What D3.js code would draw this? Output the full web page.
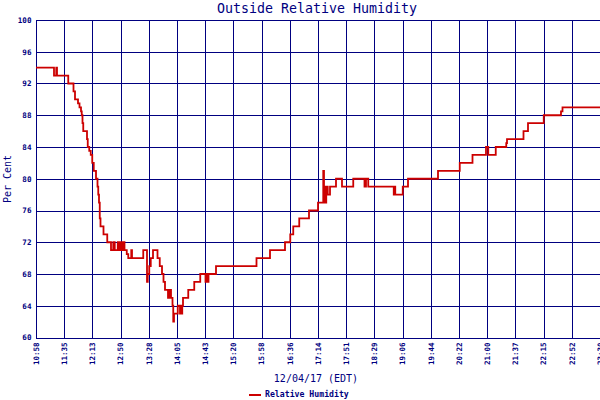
<!DOCTYPE html>
<html><head><meta charset="utf-8">
<script src="https://cdn.jsdelivr.net/npm/d3@7"></script>
<style>body{margin:0;background:#fff}svg{display:block}</style>
</head><body>
<svg id="c" width="600" height="400"></svg>
<script>
const yTicks = [60,64,68,72,76,80,84,88,92,96,100];
const xTickLabels = ["10:58","11:35","12:13","12:50","13:28","14:05","14:43","15:20","15:58","16:36","17:14","17:51","18:29","19:06","19:44","20:22","21:00","21:37","22:15","22:52","23:30"];
const times = ["10:58","11:22","11:25","11:26","11:41","11:48","11:50","11:54","11:56","11:58","11:59","12:00","12:01","12:06","12:07","12:09","12:11","12:13","12:15","12:18","12:20","12:21","12:22","12:23","12:24","12:28","12:33","12:38","12:41","12:43","12:47","12:49","12:51","12:53","12:54","12:56","12:59","13:01","13:05","13:06","13:21","13:26","13:27","13:29","13:31","13:34","13:40","13:43","13:46","13:48","13:50","13:54","13:55","13:56","13:57","13:58","14:00","14:01","14:02","14:07","14:10","14:11","14:12","14:13","14:14","14:21","14:29","14:37","14:44","14:46","14:47","14:48","14:58","15:52","16:10","16:30","16:37","16:41","16:49","17:02","17:14","17:21","17:22","17:23","17:24","17:25","17:26","17:27","17:30","17:38","17:46","18:01","18:16","18:18","18:21","18:55","18:56","18:57","19:07","19:14","19:54","20:23","20:40","20:58","21:01","21:11","21:25","21:26","21:48","21:54","22:15","22:38","22:40","23:30"];
const humidity = [94,93,94,93,92,91,90,89.5,89,88.5,88,87,86,85,84,83.5,83,82,81,80,79,78,77,75,74,73,72,71,72,71,72,71,72,71,72,71,70.5,70,71,70,71,67,68,69,70,71,70,69,68,67,66,65,66,65,66,65,64,62,63,64,63,64,63,64,65,66,67,68,67,68,67,68,69,70,71,72,73,74,75,76,77,81,77,79,77,78,79,78,79,80,79,80,79,80,79,78,79,78,79,80,81,82,83,84,83,84,84.5,85,86,87,88,88.5,89,89];

const NAVY = "#000080", RED = "#cc0000";
const mono = "'DejaVu Sans Mono', 'Liberation Mono', monospace";
const toMin = s => { const [h, m] = s.split(":").map(Number); return h * 60 + m; };

const L = 36, R = 600, T = 20, B = 337.5;
const svg = d3.select("#c");

const x = d3.scaleLinear().domain([toMin(xTickLabels[0]), toMin(xTickLabels[0]) + 752]).range([L, R]);
const xp = d3.scalePoint().domain(xTickLabels).range([L, R]);
const y = d3.scaleLinear().domain([60, 100]).range([B, T]);

// grid
const g = svg.append("g").attr("shape-rendering", "crispEdges");
g.selectAll("line.v").data(xTickLabels).join("line")
  .attr("x1", d => Math.round(xp(d)) + 0.5).attr("x2", d => Math.round(xp(d)) + 0.5)
  .attr("y1", T).attr("y2", B).attr("stroke", NAVY).attr("stroke-width", 1);
g.selectAll("line.h").data(yTicks).join("line")
  .attr("x1", L).attr("x2", R)
  .attr("y1", d => Math.round(y(d)) + 0.5).attr("y2", d => Math.round(y(d)) + 0.5)
  .attr("stroke", NAVY).attr("stroke-width", 1);

// data line
const data = times.map((t, i) => ({ t: toMin(t), v: humidity[i] }));
svg.append("path").datum(data)
  .attr("fill", "none").attr("stroke", RED).attr("stroke-width", 1.8)
  .attr("d", d3.line().curve(d3.curveStepAfter).x(d => x(d.t)).y(d => y(d.v)));

// y labels
svg.selectAll("text.yl").data(yTicks).join("text")
  .attr("x", 31.5).attr("y", d => y(d) + 2.8)
  .attr("text-anchor", "end").attr("fill", NAVY)
  .attr("font-family", mono).attr("font-weight", "bold").attr("font-size", 7.6)
  .text(d => d);

// x labels
svg.selectAll("text.xl").data(xTickLabels).join("text")
  .attr("transform", d => `translate(${xp(d) + 2.8},342.5) rotate(-90)`)
  .attr("text-anchor", "end").attr("fill", NAVY)
  .attr("font-family", mono).attr("font-weight", "bold").attr("font-size", 7.5)
  .text(d => d);

// titles
svg.append("text").attr("x", 317).attr("y", 13).attr("text-anchor", "middle")
  .attr("fill", NAVY).attr("font-family", mono).attr("font-size", 13.3)
  .text("Outside Relative Humidity");
svg.append("text").attr("x", 316).attr("y", 382).attr("text-anchor", "middle")
  .attr("fill", NAVY).attr("font-family", mono).attr("font-size", 10)
  .text("12/04/17 (EDT)");
svg.append("text").attr("transform", "translate(11,179) rotate(-90)").attr("text-anchor", "middle")
  .attr("fill", NAVY).attr("font-family", mono).attr("font-size", 10)
  .text("Per Cent");

// legend
svg.append("line").attr("x1", 249).attr("x2", 261).attr("y1", 395).attr("y2", 395)
  .attr("stroke", RED).attr("stroke-width", 2);
svg.append("text").attr("x", 265).attr("y", 397).attr("fill", NAVY)
  .attr("font-family", mono).attr("font-weight", "bold").attr("font-size", 8.2)
  .text("Relative Humidity");
</script>
</body></html>
